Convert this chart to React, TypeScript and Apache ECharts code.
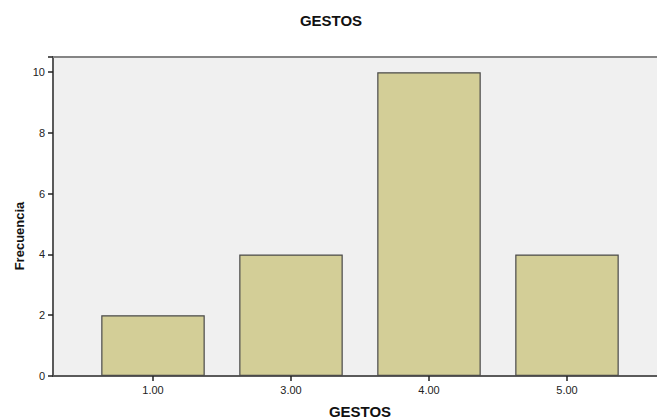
import React, { useEffect, useRef } from "react";
import * as echarts from "echarts";

const categories = ["1.00", "3.00", "4.00", "5.00"];
const frequencies = [2, 4, 10, 4];
const yTicks = [0, 2, 4, 6, 8, 10];
const chartTitle = "GESTOS";
const xTitle = "GESTOS";
const yTitle = "Frecuencia";

export default function App() {
  const ref = useRef<HTMLDivElement>(null);
  useEffect(() => {
    if (!ref.current) return;
    const chart = echarts.init(ref.current, null, { renderer: "svg" });
    const font = "'Liberation Sans', Arial, sans-serif";
    const top = 57;
    const bottom = 42;
    chart.setOption({
      animation: false,
      backgroundColor: "#ffffff",
      grid: [
        {
          left: 53,
          right: 0,
          top,
          bottom,
          show: true,
          backgroundColor: "#f0f0f0",
          borderWidth: 0,
        },
        { left: 84, right: 21, top, bottom },
      ],
      xAxis: [
        {
          gridIndex: 0,
          type: "value",
          min: 0,
          max: 1,
          axisLine: { show: true, onZero: false, lineStyle: { color: "#5a5a5a", width: 2 } },
          axisTick: { show: false },
          axisLabel: { show: false },
          splitLine: { show: false },
        },
        {
          gridIndex: 0,
          type: "value",
          position: "top",
          min: 0,
          max: 1,
          axisLine: { show: true, onZero: false, lineStyle: { color: "#858585", width: 2 } },
          axisTick: { show: false },
          axisLabel: { show: false },
          splitLine: { show: false },
        },
        {
          gridIndex: 1,
          type: "category",
          data: categories,
          axisLine: { show: false },
          axisTick: { show: true, alignWithLabel: true, length: 5, lineStyle: { color: "#222", width: 1.5 } },
          axisLabel: { color: "#222", fontSize: 11, fontFamily: font, margin: 8 },
        },
      ],
      yAxis: [
        {
          gridIndex: 0,
          type: "value",
          min: 0,
          max: 10.5,
          interval: 2,
          axisLine: { show: true, onZero: false, lineStyle: { color: "#5a5a5a", width: 2 } },
          axisTick: { show: true, length: 5, lineStyle: { color: "#222", width: 1.5 } },
          axisLabel: {
            color: "#222",
            fontSize: 11,
            fontFamily: font,
            margin: 8,
            formatter: (v: number) => (yTicks.includes(v) ? String(v) : ""),
          },
          splitLine: { show: false },
        },
        {
          gridIndex: 1,
          type: "value",
          min: 0,
          max: 10.5,
          show: false,
        },
      ],
      series: [
        {
          type: "bar",
          xAxisIndex: 2,
          yAxisIndex: 1,
          data: frequencies,
          barCategoryGap: "25%",
          itemStyle: { color: "#d3ce97", borderColor: "#4a4a4a", borderWidth: 1.2 },
        },
      ],
      graphic: [
        {
          type: "text",
          x: 331,
          y: 20,
          style: {
            text: chartTitle,
            font: `bold 15px ${font}`,
            fill: "#111",
            textAlign: "center",
            textVerticalAlign: "middle",
          },
        },
        {
          type: "text",
          x: 360,
          y: 411,
          style: {
            text: xTitle,
            font: `bold 15px ${font}`,
            fill: "#111",
            textAlign: "center",
            textVerticalAlign: "middle",
          },
        },
        {
          type: "text",
          x: 19,
          y: 236,
          rotation: Math.PI / 2,
          style: {
            text: yTitle,
            font: `bold 13px ${font}`,
            fill: "#111",
            textAlign: "center",
            textVerticalAlign: "middle",
          },
        },
      ],
    });
    return () => chart.dispose();
  }, []);
  return (
    <div
      ref={ref}
      style={{ position: "fixed", left: 0, top: 0, width: 657, height: 418 }}
    />
  );
}
